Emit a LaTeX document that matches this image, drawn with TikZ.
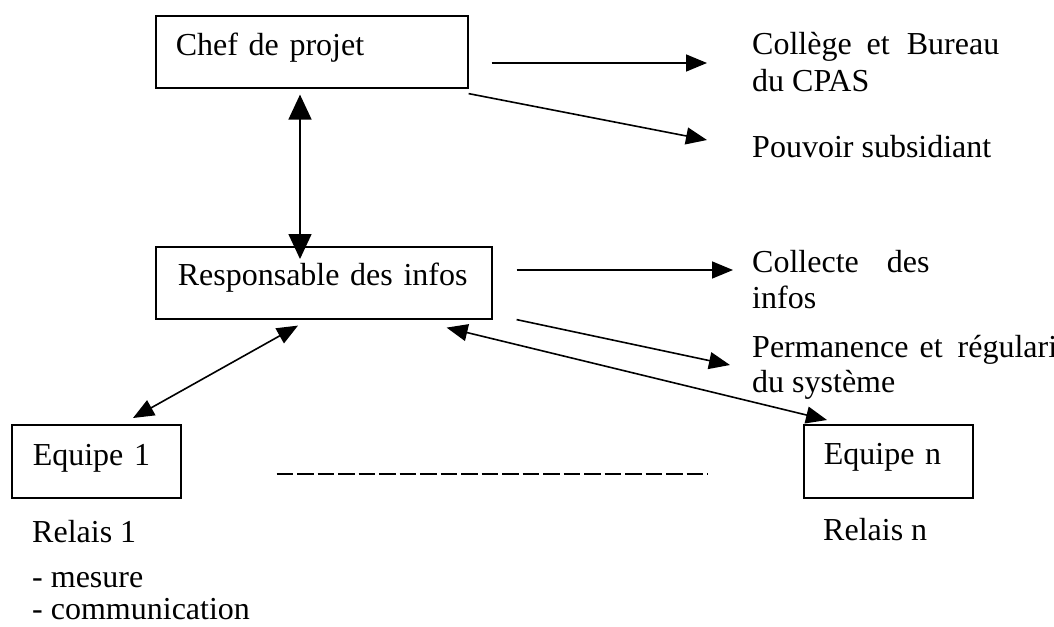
\documentclass[tikz,border=0pt]{standalone}
\usepackage{fontspec}
\setmainfont{Liberation Serif}
\usetikzlibrary{arrows.meta,calc}
\begin{document}
\begin{tikzpicture}[x=1pt,y=-1pt,
  font=\fontsize{32}{37}\selectfont,
  box/.style={draw,line width=1.6pt,anchor=north west,inner ysep=0pt,align=left},
  txt/.style={anchor=base west,inner sep=0pt},
  conn/.style={line width=1.6pt,-{Triangle[length=21pt,width=17pt]}},
  dconn/.style={line width=1.6pt,{Triangle[length=21pt,width=17pt]}-{Triangle[length=21pt,width=17pt]}},
  vconn/.style={line width=1.6pt,{Triangle[length=25pt,width=23pt]}-{Triangle[length=25pt,width=23pt]}}]
\clip (0,0) rectangle (1054,626);
\fill[white] (0,0) rectangle (1054,626);
% boxes
\node[box,inner xsep=20pt,text width=272pt,text height=40pt,text depth=32pt] (chef) at (155,15) {Chef de projet};
\node[box,inner xsep=22pt,text width=292pt,text height=39pt,text depth=33pt] (resp) at (155,246) {Responsable des infos};
\node[box,inner xsep=21pt,text width=127pt,text height=41pt,text depth=32pt] (eq1) at (11,424) {Equipe 1};
\node[box,inner xsep=20pt,text width=129pt,text height=40pt,text depth=33pt] (eqn) at (803,424) {Equipe n};
% texts
\node[txt] (coll1) at (752,55) {Collège\hspace{15pt}et\hspace{17pt}Bureau};
\node[txt] (coll2) at (752,92) {du CPAS};
\node[txt] (pouv) at (752,157) {Pouvoir subsidiant};
\node[txt] (col1) at (752,272) {Collecte\hspace{28pt}des};
\node[txt] (col2) at (752,308) {infos};
\node[txt] (perm1) at (752,357) {Permanence\hspace{11pt}et\hspace{15pt}régularité};
\node[txt] (perm2) at (752,392) {du système};
\node[txt] (rel1) at (32,542) {Relais 1};
\node[txt] (mes) at (32,587) {- mesure};
\node[txt] (com) at (32,619) {- communication};
\node[txt] (reln) at (823,540) {Relais n};
% connectors
\draw[vconn] ($(chef.south west)+(145,6)$) -- ($(resp.north west)+(145,13)$);
\draw[conn] ($(chef.north east)+(23,48)$) -- ($(coll1.base west)+(-45,8)$);
\draw[conn] ($(chef.south east)+(0,5)$) -- ($(pouv.base west)+(-45,-17)$);
\draw[conn] ($(resp.north east)+(24,24)$) -- ($(col1.base west)+(-19,-2)$);
\draw[conn] ($(resp.south east)+(24,0)$) -- ($(perm1.base west)+(-22,8)$);
\draw[dconn] ($(resp.south east)+(-46,8)$) -- ($(eqn.north west)+(24,-4)$);
\draw[dconn] ($(resp.south west)+(143,6)$) -- ($(eq1.north west)+(122,-6)$);
\draw[line width=1.8pt,dash pattern=on 16.5pt off 4pt] ($(eq1.south east)+(95,-25)$) -- ($(eqn.south west)+(-95,-25)$);
\end{tikzpicture}
\end{document}
